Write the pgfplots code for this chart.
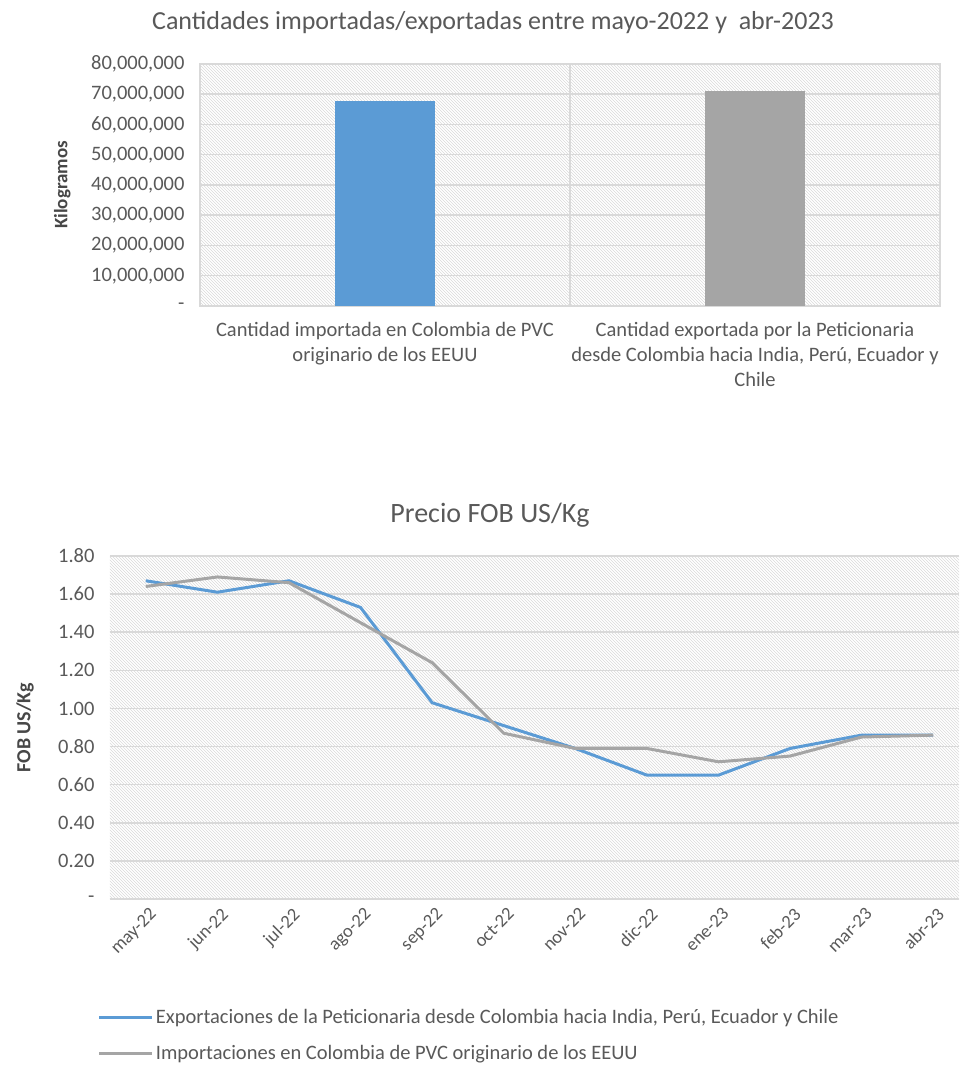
\documentclass[border=0pt]{standalone}
\usepackage{fontspec}
\setmainfont{Carlito}
\usepackage{pgfplots}
\usepackage{pgfplotstable}
\pgfplotsset{compat=1.18}
\usetikzlibrary{patterns}
\definecolor{cblue}{HTML}{5B9BD5}
\definecolor{cgray}{HTML}{A5A5A5}
\definecolor{ctext}{HTML}{595959}
\definecolor{cgrid}{HTML}{D9D9D9}
\pgfplotstableread{
idx exp imp
0 1.67 1.64
1 1.61 1.69
2 1.67 1.66
3 1.53 1.45
4 1.03 1.24
5 0.91 0.87
6 0.79 0.79
7 0.65 0.79
8 0.65 0.72
9 0.79 0.75
10 0.86 0.85
11 0.86 0.86
}\fobdata
\begin{document}
\begin{tikzpicture}[x=1pt,y=1pt]
\useasboundingbox (0,0) rectangle (959,1068);
% ---------- top chart ----------
\begin{axis}[
  at={(200pt,762pt)}, anchor=south west, scale only axis,
  width=740pt, height=242pt,
  xmin=-0.5, xmax=1.5, ymin=0, ymax=80000000,
  xtick={0,1},
  xticklabels={{Cantidad importada en Colombia de PVC\\originario de los EEUU},{Cantidad exportada por la Peticionaria\\desde Colombia hacia India, Perú, Ecuador y\\Chile}},
  major tick length=0pt,
  extra x ticks={0.5}, extra x tick labels={}, extra x tick style={grid=major},
  ytick={0,10000000,20000000,30000000,40000000,50000000,60000000,70000000,80000000},
  yticklabels={{-\hspace{14pt}},{10,000,000},{20,000,000},{30,000,000},{40,000,000},{50,000,000},{60,000,000},{70,000,000},{80,000,000}},
  scaled y ticks=false,
  ymajorgrids,
  grid style={cgrid, line width=1.5pt},
  axis line style={cgrid, line width=1.5pt},
  axis background/.style={pattern=north west lines, pattern color=gray!30},
  tick label style={font=\fontsize{20.5}{25}\selectfont, text=ctext},
  xticklabel style={align=center, yshift=-13pt},
  yticklabel style={xshift=-12pt},
  title={Cantidades importadas/exportadas entre mayo-2022 y\ \ abr-2023},
  title style={font=\fontsize{26}{30}\selectfont, text=ctext, at={(axis description cs:0.396,1.147)}, anchor=center},
  ylabel={Kilogramos},
  ylabel style={font=\bfseries\fontsize{19}{22}\selectfont, text=ctext!80!black, at={(axis description cs:-0.186,0.5)}, anchor=center},
]
\addplot[ybar, bar width=100pt, bar shift=0pt, fill=cblue, draw=none] coordinates {(0,67850000)};
\addplot[ybar, bar width=100pt, bar shift=0pt, fill=cgray, draw=none] coordinates {(1,71170000)};
\end{axis}
% ---------- bottom chart ----------
\begin{axis}[
  at={(110pt,169pt)}, anchor=south west, scale only axis,
  width=849pt, height=343pt,
  xmin=-0.5, xmax=11.36, ymin=0, ymax=1.8,
  xtick={0,1,2,3,4,5,6,7,8,9,10,11},
  xticklabels={may-22,jun-22,jul-22,ago-22,sep-22,oct-22,nov-22,dic-22,ene-23,feb-23,mar-23,abr-23},
  major tick length=0pt,
  ytick={0,0.2,0.4,0.6,0.8,1.0,1.2,1.4,1.6,1.8},
  yticklabels={{-\hspace{14pt}},{0.20},{0.40},{0.60},{0.80},{1.00},{1.20},{1.40},{1.60},{1.80}},
  ymajorgrids,
  grid style={cgrid, line width=1.5pt},
  axis line style={draw=none},
  axis background/.style={pattern=north west lines, pattern color=gray!30},
  tick label style={font=\fontsize{20.5}{25}\selectfont, text=ctext},
  xticklabel style={rotate=45, anchor=north east, font=\fontsize{18.5}{22}\selectfont, yshift=-4pt},
  yticklabel style={xshift=-12pt},
  title={Precio FOB US/Kg},
  title style={font=\fontsize{28}{32}\selectfont, text=ctext, at={(axis description cs:0.4476,1.102)}, anchor=center},
  ylabel={FOB US/Kg},
  ylabel style={font=\bfseries\fontsize{20}{24}\selectfont, text=ctext!80!black, at={(axis description cs:-0.100,0.5)}, anchor=center},
  legend style={at={(axis description cs:-0.018,-0.31)}, anchor=north west, draw=none, fill=none,
    font=\fontsize{20.5}{25}\selectfont, text=ctext, row sep=16pt},
  legend cell align=left,
  legend image code/.code={\draw[#1] (0pt,0pt) -- (53pt,0pt);},
]
\addplot[cblue, line width=3pt] table[x=idx, y=exp] {\fobdata};
\addlegendentry{Exportaciones de la Peticionaria desde Colombia hacia India, Perú, Ecuador y Chile}
\addplot[cgray, line width=3pt] table[x=idx, y=imp] {\fobdata};
\addlegendentry{Importaciones en Colombia de PVC originario de los EEUU}
\end{axis}
\end{tikzpicture}
\end{document}
